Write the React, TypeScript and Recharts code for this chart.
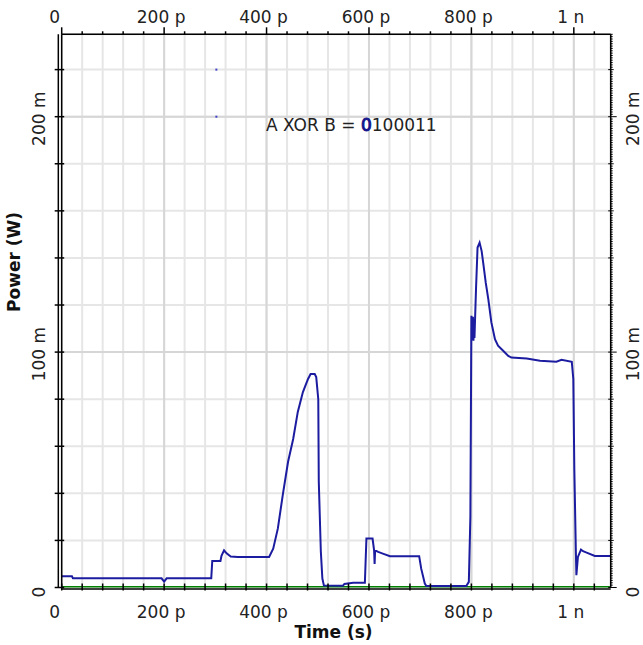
import {
  CartesianGrid,
  ComposedChart,
  Line,
  ReferenceDot,
  ReferenceLine,
  Scatter,
  XAxis,
  YAxis,
} from "recharts";

// time in ps, power in mW
const TIME_PS = [
  0, 20, 22, 195, 200, 205, 292, 294, 310, 312, 317, 322, 330, 344, 405, 413, 422, 432, 442, 452,
  461, 471, 481, 486, 494, 497, 501, 502, 506, 509, 512, 549, 552, 569, 592, 595, 607, 610, 611,
  612, 618, 627, 641, 698, 702, 709, 712, 790, 795, 798, 800, 802, 803, 804, 805, 806, 807, 809,
  812, 816, 820, 823, 828, 833, 839, 846, 852, 862, 872, 878, 908, 934, 966, 976, 996, 999, 1001,
  1004, 1005, 1008, 1014, 1018, 1025, 1041, 1072,
];
const POWER_MW = [
  4.8, 4.8, 3.9, 3.9, 2.5, 3.9, 3.9, 11.3, 11.3, 13.5, 15.8, 14.5, 13.2, 13, 13, 16.5, 25, 39.8,
  53.4, 63.1, 74.6, 83, 88.6, 90.7, 90.7, 89.4, 80, 44.9, 15.3, 3.8, 0.8, 0.7, 1.5, 2, 2, 20.8,
  20.8, 15.8, 10, 15.8, 15.1, 14.4, 13.3, 13.3, 8, 1.7, 0.6, 0.6, 2.4, 30, 115.4, 105, 115, 104.8,
  114, 106, 113, 126.7, 144.4, 146.5, 142.9, 138, 129.5, 122.5, 112.6, 105.5, 102.7, 100.6, 98.4,
  97.7, 97.3, 96.3, 95.9, 96.7, 95.9, 88.6, 50, 15, 5.2, 13, 16.1, 15.4, 14.8, 13.4, 13.4,
];

// reference (ground) trace, flat at zero
const GROUND_T = [0, 1072];
const GROUND_P = [0, 0];

// stray markers near the label
const MARK_T = [302, 302];
const MARK_P = [220, 200];

const X_DOMAIN: [number, number] = [0, 1072];
const Y_DOMAIN: [number, number] = [0, 235];

const X_LABEL_VALUES = [0, 200, 400, 600, 800, 1000];
const X_LABEL_TEXT = ["0", "200 p", "400 p", "600 p", "800 p", "1 n"];
const Y_LABEL_VALUES = [0, 100, 200];
const Y_LABEL_TEXT = ["0", "100 m", "200 m"];

const X_MINOR = Array.from({ length: 27 }, (_, i) => i * 40);
const Y_MINOR = Array.from({ length: 12 }, (_, i) => i * 20);
const Y_FINE = Array.from({ length: 236 }, (_, i) => i);

const FONT = "'DejaVu Sans', Verdana, sans-serif";
const TEXT = "#222";

const rows = TIME_PS.map((t, i) => ({ t, p: POWER_MW[i] }));
const ground = GROUND_T.map((t, i) => ({ t, g: GROUND_P[i] }));
const marks = MARK_T.map((t, i) => ({ t, p: MARK_P[i] }));

function BottomTick(props: any) {
  const { x, y, payload } = props;
  const v = payload.value;
  const i = X_LABEL_VALUES.indexOf(v);
  return (
    <g>
      <line x1={x} x2={x} y1={y - 4} y2={y + 3} stroke="#000" strokeWidth={1.5} />
      {i >= 0 ? (
        <text
          x={x + (v === 0 ? -7 : -3)}
          y={y + 30.5}
          textAnchor="middle"
          fontFamily={FONT}
          fontSize={17}
          fill={TEXT}
        >
          {X_LABEL_TEXT[i]}
        </text>
      ) : null}
    </g>
  );
}

function TopTick(props: any) {
  const { x, y, payload } = props;
  const v = payload.value;
  const i = X_LABEL_VALUES.indexOf(v);
  return (
    <g>
      <line x1={x} x2={x} y1={y} y2={y - (i >= 0 ? 7 : 3)} stroke="#000" strokeWidth={1.5} />
      {i >= 0 ? (
        <text
          x={x + (v === 0 ? -7 : -3)}
          y={y - 11.6}
          textAnchor="middle"
          fontFamily={FONT}
          fontSize={17}
          fill={TEXT}
        >
          {X_LABEL_TEXT[i]}
        </text>
      ) : null}
    </g>
  );
}

function LeftTick(props: any) {
  const { x, y, payload } = props;
  const v = payload.value;
  const i = Y_LABEL_VALUES.indexOf(v);
  return (
    <g>
      <line x1={x - 7} x2={x + 2.5} y1={y} y2={y} stroke="#000" strokeWidth={1.5} />
      {i >= 0 ? (
        <text
          transform={`translate(${x - 16.5}, ${y + (v === 0 ? 4.5 : 2)}) rotate(-90)`}
          textAnchor="middle"
          fontFamily={FONT}
          fontSize={17}
          fill={TEXT}
        >
          {Y_LABEL_TEXT[i]}
        </text>
      ) : null}
    </g>
  );
}

function RightTick(props: any) {
  const { x, y, payload } = props;
  const v = payload.value;
  const i = Y_LABEL_VALUES.indexOf(v);
  const len = v % 100 === 0 ? 6 : v % 20 === 0 ? 3 : 2;
  const inner = v % 20 === 0 ? 2.5 : 0;
  return (
    <g>
      <line x1={x - inner} x2={x + len} y1={y} y2={y} stroke="#000" strokeWidth={1} />
      {i >= 0 ? (
        <text
          transform={`translate(${x + 28}, ${y + (v === 0 ? 4.5 : 2)}) rotate(-90)`}
          textAnchor="middle"
          fontFamily={FONT}
          fontSize={17}
          fill={TEXT}
        >
          {Y_LABEL_TEXT[i]}
        </text>
      ) : null}
    </g>
  );
}

function XorLabel(props: any) {
  const { viewBox } = props;
  return (
    <text x={viewBox.x} y={viewBox.y} fontFamily={FONT} fontSize={17} fill={TEXT}>
      A XOR B ={" "}
      <tspan fill="#14148c" stroke="#14148c" strokeWidth={1}>
        0
      </tspan>
      100011
    </text>
  );
}

export default function App() {
  return (
    <div style={{ position: "absolute", left: 0, top: 0, width: 643, height: 645, background: "#fff" }}>
      <ComposedChart width={643} height={645} data={rows} margin={{ top: 0, right: 0, bottom: 0, left: 0 }}>
        <XAxis
          xAxisId="b"
          dataKey="t"
          type="number"
          domain={X_DOMAIN}
          allowDataOverflow
          ticks={X_MINOR}
          interval={0}
          height={57.5}
          tickSize={0}
          tickMargin={0}
          tickLine={false}
          axisLine={false}
          tick={BottomTick}
        />
        <XAxis
          xAxisId="top"
          orientation="top"
          dataKey="t"
          type="number"
          domain={X_DOMAIN}
          allowDataOverflow
          ticks={X_MINOR}
          interval={0}
          height={34.3}
          tickSize={0}
          tickMargin={0}
          tickLine={false}
          axisLine={{ stroke: "#000", strokeWidth: 1.5 }}
          tick={TopTick}
        />
        <YAxis
          yAxisId="l"
          type="number"
          domain={Y_DOMAIN}
          allowDataOverflow
          ticks={Y_MINOR}
          interval={0}
          width={61.7}
          tickSize={0}
          tickMargin={0}
          tickLine={false}
          axisLine={{ stroke: "#000", strokeWidth: 1.5 }}
          tick={LeftTick}
          label={{
            value: "Power (W)",
            angle: -90,
            position: "insideLeft",
            offset: 0,
            dx: 14,
            dy: 1,
            style: { fontFamily: FONT, fontSize: 17, fontWeight: "bold", fill: "#111" },
          }}
        />
        <YAxis
          yAxisId="r"
          orientation="right"
          type="number"
          domain={Y_DOMAIN}
          allowDataOverflow
          ticks={Y_FINE}
          interval={0}
          width={32.3}
          tickSize={0}
          tickMargin={0}
          tickLine={false}
          axisLine={{ stroke: "#000", strokeWidth: 1.5 }}
          tick={RightTick}
        />
        <CartesianGrid xAxisId="b" yAxisId="l" stroke="#e6e6e6" strokeWidth={2} />
        {X_LABEL_VALUES.slice(1).map((v) => (
          <ReferenceLine key={`vx${v}`} xAxisId="b" yAxisId="l" x={v} stroke="#d6d6d6" strokeWidth={2} />
        ))}
        {Y_LABEL_VALUES.slice(1).map((v) => (
          <ReferenceLine key={`hy${v}`} xAxisId="b" yAxisId="l" y={v} stroke="#d6d6d6" strokeWidth={2} />
        ))}
        {/* second rule of the double left frame line */}
        <ReferenceLine
          xAxisId="b"
          yAxisId="l"
          x={-6.6}
          ifOverflow="visible"
          stroke="#000"
          strokeWidth={1.5}
        />
        {/* bottom frame line, sitting just under the ground trace */}
        <ReferenceLine
          xAxisId="b"
          yAxisId="l"
          y={-0.6}
          ifOverflow="visible"
          stroke="#000"
          strokeWidth={1.5}
        />
        <Line
          xAxisId="b"
          yAxisId="l"
          data={ground}
          dataKey="g"
          type="linear"
          stroke="#008000"
          strokeWidth={3}
          dot={false}
          activeDot={false}
          isAnimationActive={false}
        />
        <Line
          xAxisId="b"
          yAxisId="l"
          dataKey="p"
          type="linear"
          stroke="#1c1ca0"
          strokeWidth={2}
          dot={false}
          activeDot={false}
          isAnimationActive={false}
        />
        <Scatter
          xAxisId="b"
          yAxisId="l"
          data={marks}
          dataKey="p"
          fill="#4040c8"
          isAnimationActive={false}
          shape={(p: any) => <rect x={p.cx - 1} y={p.cy - 1} width={2} height={2} fill="#4040c8" />}
        />
        <ReferenceDot
          xAxisId="b"
          yAxisId="l"
          x={399}
          y={194}
          r={0}
          stroke="none"
          fill="none"
          label={<XorLabel />}
        />
      </ComposedChart>
      <div
        style={{
          position: "absolute",
          left: 0,
          width: 643,
          top: 622,
          textAlign: "center",
          paddingLeft: 24,
          boxSizing: "border-box",
          fontFamily: FONT,
          fontSize: 17,
          fontWeight: "bold",
          color: "#111",
        }}
      >
        Time (s)
      </div>
    </div>
  );
}
